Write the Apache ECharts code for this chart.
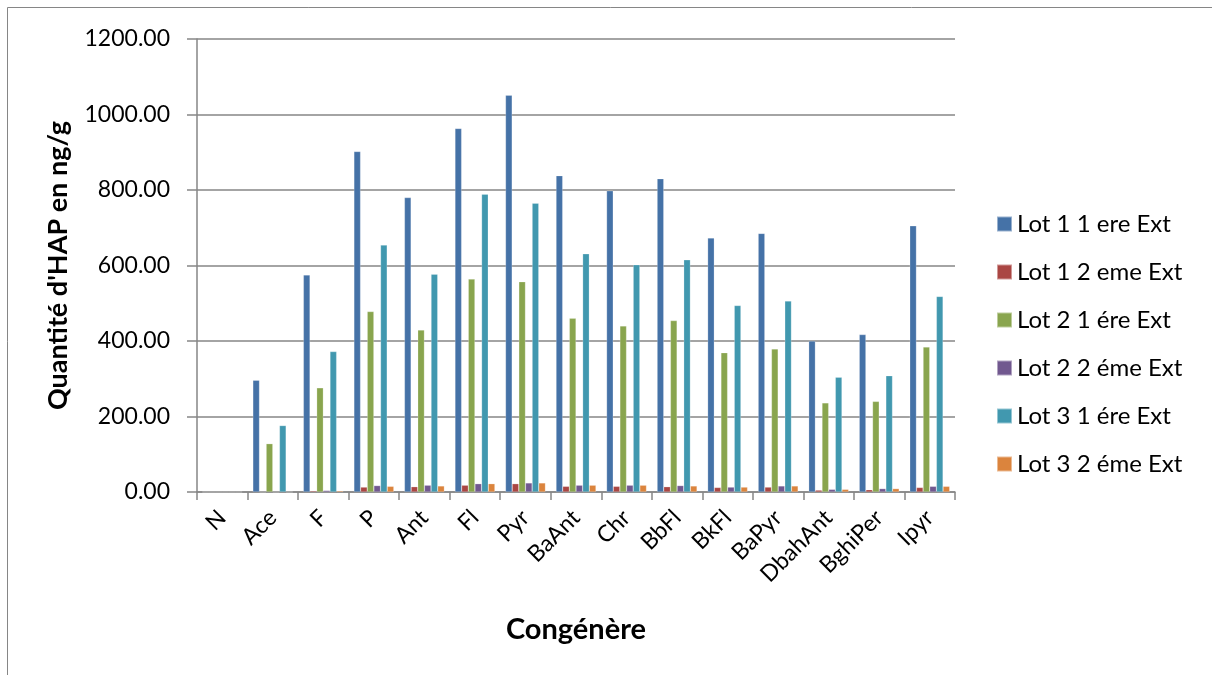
<!DOCTYPE html>
<html>
<head>
<meta charset="utf-8">
<title>Quantité d'HAP par congénère</title>
<script src="https://cdn.jsdelivr.net/npm/echarts@6/dist/echarts.min.js"></script>
<style>
  html, body { margin: 0; padding: 0; background: #ffffff; }
  #chart { width: 1212px; height: 675px; }
</style>
</head>
<body>
<div id="chart"></div>
<script>
// Congeners on the category axis
const categories = ['N', 'Ace', 'F', 'P', 'Ant', 'Fl', 'Pyr', 'BaAnt', 'Chr', 'BbFl', 'BkFl', 'BaPyr', 'DbahAnt', 'BghiPer', 'Ipyr'];

// PAH quantities (ng/g) per batch and extraction
const lot1Ext1 = [0, 296, 575, 902, 780, 963, 1051, 838, 798, 830, 673, 685, 400, 417, 705];
const lot1Ext2 = [0, 0, 3, 13, 14, 18, 22, 15, 15, 14, 12, 13, 5, 6, 12];
const lot2Ext1 = [0, 128, 276, 478, 429, 564, 557, 460, 440, 454, 369, 379, 236, 240, 384];
const lot2Ext2 = [0, 0, 4, 17, 18, 22, 24, 18, 18, 17, 13, 16, 7, 9, 15];
const lot3Ext1 = [0, 176, 372, 654, 577, 789, 765, 631, 602, 615, 494, 506, 304, 308, 518];
const lot3Ext2 = [0, 0, 3, 15, 16, 22, 24, 18, 18, 16, 13, 16, 7, 9, 15];

const seriesNames = ['Lot 1 1 ere Ext', 'Lot 1 2 eme Ext', 'Lot 2 1 ére Ext', 'Lot 2 2 éme Ext', 'Lot 3 1 ére Ext', 'Lot 3 2 éme Ext'];
const seriesValues = [lot1Ext1, lot1Ext2, lot2Ext1, lot2Ext2, lot3Ext1, lot3Ext2];
const palette = ['#4572A7', '#AA4643', '#89A54E', '#71588F', '#4198AF', '#DB843D'];

const FONT = 'Lato, "Open Sans", "Liberation Sans", sans-serif';
const AXIS_GREY = '#868686';

const chart = echarts.init(document.getElementById('chart'), null, { renderer: 'canvas' });

chart.setOption({
  animation: false,
  backgroundColor: '#ffffff',
  color: palette,
  textStyle: { fontFamily: FONT, color: '#000' },
  graphic: [{
    type: 'rect',
    shape: { x: 7.5, y: 7.5, width: 1400, height: 900 },
    style: { fill: 'none', stroke: AXIS_GREY, lineWidth: 1 },
    silent: true,
    z: -10
  }],
  grid: { left: 197, right: 257, top: 39, bottom: 183, containLabel: false },
  legend: {
    orient: 'vertical',
    left: 991,
    top: 207,
    itemWidth: 15,
    itemHeight: 15,
    itemGap: 24,
    icon: 'rect',
    textStyle: { fontFamily: FONT, fontSize: 24, lineHeight: 24, color: '#000' },
    data: seriesNames
  },
  xAxis: {
    type: 'category',
    data: categories,
    name: 'Congénère',
    nameLocation: 'middle',
    nameGap: 123,
    nameTextStyle: { fontFamily: FONT, fontSize: 29, fontWeight: 'bold', color: '#000' },
    axisLine: { lineStyle: { color: AXIS_GREY, width: 1.5 } },
    axisTick: { show: true, inside: false, length: 8, lineStyle: { color: AXIS_GREY, width: 1.5 } },
    axisLabel: { rotate: 45, fontSize: 23, color: '#000', margin: 22, interval: 0, fontFamily: FONT },
    splitLine: { show: false }
  },
  yAxis: {
    type: 'value',
    min: 0,
    max: 1200,
    interval: 200,
    name: "Quantité d'HAP en ng/g",
    nameLocation: 'middle',
    nameGap: 125,
    nameRotate: 90,
    nameTextStyle: { fontFamily: FONT, fontSize: 27, fontWeight: 'bold', color: '#000' },
    axisLine: { show: true, lineStyle: { color: AXIS_GREY, width: 1.5 } },
    axisTick: { show: true, inside: false, length: 10, lineStyle: { color: AXIS_GREY, width: 1.5 } },
    axisLabel: {
      fontSize: 23, color: '#000', margin: 27, fontFamily: FONT,
      formatter: v => v.toFixed(2)
    },
    splitLine: { show: true, lineStyle: { color: AXIS_GREY, width: 1.5 } }
  },
  series: seriesNames.map((name, i) => ({
    name: name,
    type: 'bar',
    data: seriesValues[i],
    barGap: '0%',
    barCategoryGap: '21%',
    itemStyle: { color: palette[i], borderColor: 'rgba(255,255,255,0.45)', borderWidth: 0.5 }
  }))
});
</script>
</body>
</html>
